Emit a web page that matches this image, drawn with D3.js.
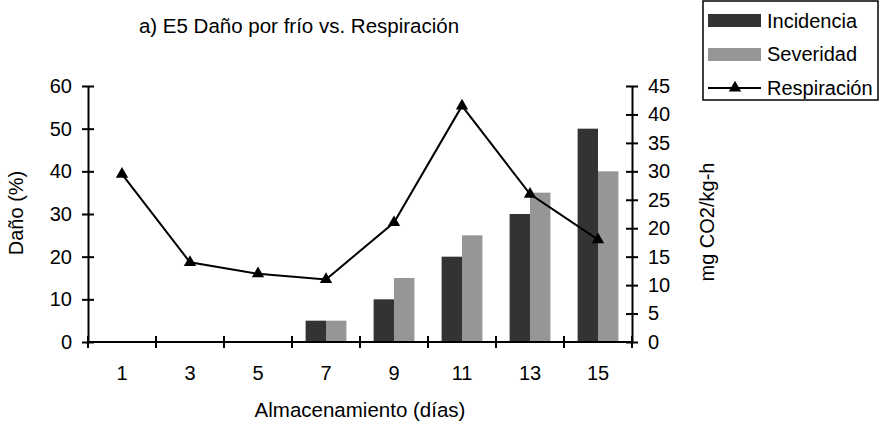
<!DOCTYPE html>
<html>
<head>
<meta charset="utf-8">
<script src="https://cdn.jsdelivr.net/npm/d3@7"></script>
<style>
  body { margin: 0; background: #fff; }
  text { font-family: "Liberation Sans", Arial, sans-serif; fill: #000; }
</style>
</head>
<body>
<div id="chart"></div>
<script>
const categories = ["1", "3", "5", "7", "9", "11", "13", "15"];
const incidencia = [0, 0, 0, 5, 10, 20, 30, 50];
const severidad = [0, 0, 0, 5, 15, 25, 35, 40];
const respiracion = [29.5, 14, 12, 11, 21, 41.5, 26, 18];
const leftTicks = [0, 10, 20, 30, 40, 50, 60];
const rightTicks = [0, 5, 10, 15, 20, 25, 30, 35, 40, 45];

const W = 882, H = 424;
const plotL = 88, plotR = 632, plotT = 86, plotB = 342;

const svg = d3.select("#chart").append("svg")
    .attr("width", W).attr("height", H);

let x = d3.scaleBand().domain(categories).range([plotL, plotR]).padding(0);
let yL = d3.scaleLinear().domain([0, 60]).range([plotB, plotT]);
let yR = d3.scaleLinear().domain([0, 45]).range([plotB, plotT]);
const bw = x.bandwidth() * 0.3;

// bars
const barData = categories.map((c, i) => ({ c: c, inc: incidencia[i], sev: severidad[i] }));
svg.selectAll("rect.inc").data(barData.filter(d => d.inc > 0)).enter().append("rect")
    .attr("x", d => x(d.c) + x.bandwidth() / 2 - bw)
    .attr("y", d => yL(d.inc))
    .attr("width", bw)
    .attr("height", d => plotB - yL(d.inc))
    .attr("fill", "#333333");
svg.selectAll("rect.sev").data(barData.filter(d => d.sev > 0)).enter().append("rect")
    .attr("x", d => x(d.c) + x.bandwidth() / 2)
    .attr("y", d => yL(d.sev))
    .attr("width", bw)
    .attr("height", d => plotB - yL(d.sev))
    .attr("fill", "#969696");

// axes
const axL = svg.append("g").attr("transform", `translate(${plotL},0)`)
    .call(d3.axisLeft(yL).tickValues(leftTicks).tickSizeInner(6).tickSizeOuter(0).tickPadding(10));
axL.selectAll(".tick line").attr("x1", 6);
const axR = svg.append("g").attr("transform", `translate(${plotR},0)`)
    .call(d3.axisRight(yR).tickValues(rightTicks).tickSizeInner(6).tickSizeOuter(0).tickPadding(10));
axR.selectAll(".tick line").attr("x1", -6);
const axX = svg.append("g").attr("transform", `translate(0,${plotB})`)
    .call(d3.axisBottom(x).tickSize(0).tickPadding(24));
axX.selectAll(".tick line").remove();
const bounds = categories.map(c => x(c)).concat([x.range()[1]]);
axX.selectAll("line.bt").data(bounds).enter().append("line")
    .attr("x1", d => d).attr("x2", d => d).attr("y1", -6).attr("y2", 6)
    .attr("stroke", "#000").attr("stroke-width", 2);

[axL, axR, axX].forEach(a => {
    a.select(".domain").attr("stroke", "#000").attr("stroke-width", 2);
    a.selectAll(".tick line").attr("stroke", "#000").attr("stroke-width", 2);
    a.selectAll("text").attr("font-size", 20).attr("font-family", "Liberation Sans, Arial, sans-serif").attr("fill", "#000");
});
axX.select(".domain").attr("d", `M${plotL},0H${plotR}`);

// line
const cx = c => x(c) + x.bandwidth() / 2;
const lineData = categories.map((c, i) => ({ c: c, v: respiracion[i] }));
svg.append("path").datum(lineData)
    .attr("d", d3.line().x(d => cx(d.c)).y(d => yR(d.v)))
    .attr("fill", "none").attr("stroke", "#000").attr("stroke-width", 2);
const tri = d3.symbol(d3.symbolTriangle, 66);
svg.selectAll("path.mk").data(lineData).enter().append("path")
    .attr("d", tri)
    .attr("transform", d => `translate(${cx(d.c)},${yR(d.v)})`)
    .attr("fill", "#000");

// titles
svg.append("text").attr("x", 299).attr("y", 33).attr("text-anchor", "middle")
    .attr("font-size", 20.5).text("a) E5 Daño por frío vs. Respiración");
svg.append("text").attr("x", (plotL + plotR) / 2).attr("y", 417).attr("text-anchor", "middle")
    .attr("font-size", 20.5).text("Almacenamiento (días)");
svg.append("text").attr("transform", "translate(23,213) rotate(-90)").attr("text-anchor", "middle")
    .attr("font-size", 20).text("Daño (%)");
svg.append("text").attr("transform", "translate(714,222) rotate(-90)").attr("text-anchor", "middle")
    .attr("font-size", 20).text("mg CO2/kg-h");

// legend
const lg = svg.append("g");
lg.append("rect").attr("x", 703).attr("y", 1).attr("width", 175).attr("height", 99)
    .attr("fill", "#fff").attr("stroke", "#000").attr("stroke-width", 1.5);
const legendItems = ["Incidencia", "Severidad", "Respiración"];
const legendY = [21, 54, 88];
lg.append("rect").attr("x", 708).attr("y", legendY[0] - 7).attr("width", 53).attr("height", 13).attr("fill", "#333333");
lg.append("rect").attr("x", 708).attr("y", legendY[1] - 6).attr("width", 53).attr("height", 13).attr("fill", "#969696");
lg.append("line").attr("x1", 708).attr("x2", 761).attr("y1", legendY[2]).attr("y2", legendY[2])
    .attr("stroke", "#000").attr("stroke-width", 2);
lg.append("path").attr("d", tri).attr("transform", `translate(735,${legendY[2]})`).attr("fill", "#000");
lg.selectAll("text.li").data(legendItems).enter().append("text")
    .attr("x", 767).attr("y", (d, i) => legendY[i] + 7)
    .attr("font-size", 20).text(d => d);
</script>
</body>
</html>
